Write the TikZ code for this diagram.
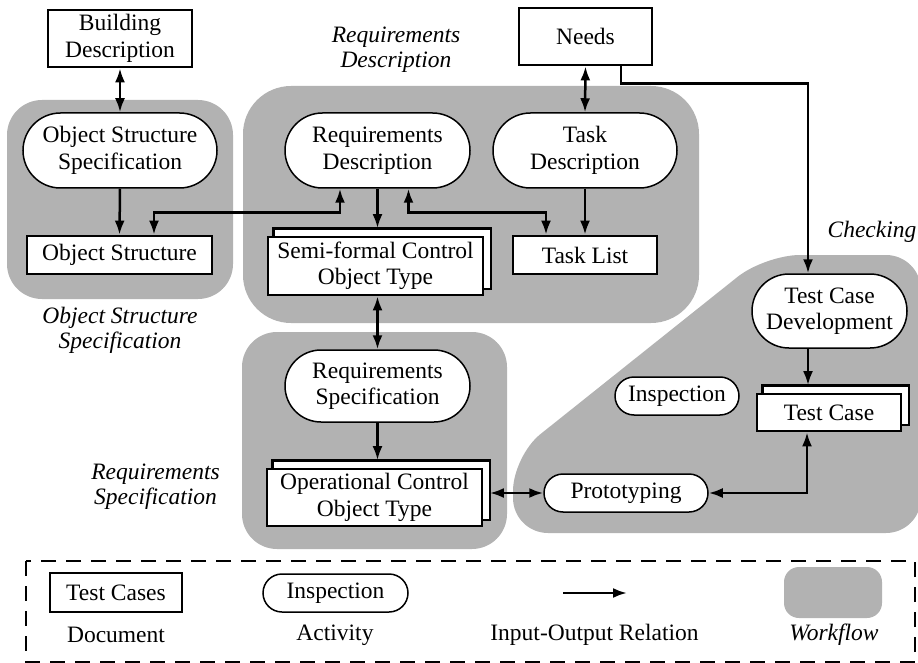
\documentclass[tikz,border=0pt]{standalone}
\usepackage{fontspec}
\setmainfont{Liberation Serif}
\usetikzlibrary{arrows.meta}
\pgfdeclarelayer{bg}
\pgfdeclarelayer{backdoc}
\pgfsetlayers{bg,backdoc,main}
\begin{document}
\begin{tikzpicture}[x=1pt,y=-1pt,font=\fontsize{23.5}{26.5}\selectfont,
  wf/.style={fill=black!30},
  doc/.style={draw,line width=2.8pt,fill=white,align=center,inner sep=0pt},
  act/.style={draw,line width=1.5pt,fill=white,align=center,inner sep=0pt,rounded corners=#1},
  tip/.style={},
  io/.style={line width=2.5pt,-{Latex[length=14pt,width=10pt]}},
  bio/.style={line width=2.5pt,{Latex[length=14pt,width=10pt]}-{Latex[length=14pt,width=10pt]}},
  lab/.style={font=\fontsize{23.5}{25}\selectfont\itshape,align=center}]
\useasboundingbox (0,0) rectangle (918,663);
% workflows
\begin{pgfonlayer}{bg}
\fill[wf,rounded corners=35pt] (7,100) rectangle (233,299);
\fill[wf,rounded corners=48pt] (243,86) rectangle (699,323);
\fill[wf,rounded corners=35pt] (242,332) rectangle (507,549);
\begin{scope}
\clip (0,0) rectangle (918,663);
\fill[wf,rounded corners=35pt] (765,255) -- (921,255) -- (921,533) -- (513,533) -- (513,456) -- cycle;
\end{scope}
\end{pgfonlayer}
% labels
\node[lab] (lRD) at (396,50) {Requirements\\Description};
\node[lab] (lOSS) at (120,330) {Object Structure\\Specification};
\node[lab] (lRS) at (155.5,487) {Requirements\\Specification};
\node[lab] (lChk) at (872,232) {Checking};
% documents
\node[doc,minimum width=144pt,minimum height=57pt] (BD) at (120,38.5) {Building\\Description};
\node[doc,minimum width=133pt,minimum height=57pt] (Needs) at (585.5,36.5) {Needs};
\node[doc,minimum width=185pt,minimum height=38pt] (OS) at (119.5,255) {Object Structure};
\node[doc,minimum width=215pt,minimum height=58pt] (SF) at (375.5,266) {Semi-formal Control\\Object Type};
\node[doc,minimum width=144pt,minimum height=38pt] (TL) at (585,255) {Task List};
\node[doc,minimum width=215pt,minimum height=57pt] (Op) at (374.5,497.5) {Operational Control\\Object Type};
\node[doc,minimum width=144pt,minimum height=37pt] (TC) at (829,412.5) {Test Case};
% back sheets of the multi-document nodes
\begin{pgfonlayer}{backdoc}
\foreach \n in {SF,Op,TC}{
  \draw[line width=2.8pt,fill=white] ([xshift=6.5pt,yshift=7.5pt]\n.south west) rectangle ([xshift=6.5pt,yshift=7.5pt]\n.north east);
}
\end{pgfonlayer}
% activities
\node[act=37.5pt,minimum width=194pt,minimum height=75pt] (OSS) at (120,150.5) {Object Structure\\Specification};
\node[act=37.5pt,minimum width=185pt,minimum height=75pt] (RD) at (377.5,150.5) {Requirements\\Description};
\node[act=37.5pt,minimum width=184pt,minimum height=75pt] (TD) at (585,150.5) {Task\\Description};
\node[act=36pt,minimum width=185pt,minimum height=72pt] (RS) at (377.5,386) {Requirements\\Specification};
\node[act=19pt,minimum width=164pt,minimum height=38pt] (Proto) at (626,493) {Prototyping};
\node[act=19pt,minimum width=124pt,minimum height=38pt] (Insp) at (677,396) {Inspection};
\node[act=37pt,minimum width=155pt,minimum height=74pt] (TCD) at (829.5,311) {Test Case\\Development};
% helper coordinates
\coordinate (SFtop) at ([yshift=7.5pt]SF.north);
\coordinate (Optop) at ([yshift=7.5pt]Op.north);
\coordinate (OpR) at ([xshift=6.5pt]Op.east);
\coordinate (TCtop) at ([yshift=7.5pt]TC.north);
% connectors
\draw[bio] (BD.south) -- (OSS.north);
\draw[io] (OSS.south) -- (OS.north);
\draw[bio] ([xshift=-37.5pt]RD.south) -- ++(0,24) -| ([xshift=34.5pt]OS.north);
\draw[io] (RD.south) -- (RD.south |- SFtop);
\draw[bio] ([xshift=31pt]RD.south) -- ++(0,24) -| ([xshift=-39pt]TL.north);
\draw[bio] (Needs.south) -- (TD.north);
\draw[io] (TD.south) -- (TL.north);
\draw[io] ([xshift=35.5pt]Needs.south) -- ++(0,17) -| ([xshift=-21.5pt]TCD.north);
\draw[bio] (RS.north |- SF.south) -- (RS.north);
\draw[io] (RS.south) -- (RS.south |- Optop);
\draw[bio] (OpR |- Proto.west) -- (Proto.west);
\draw[io] ([xshift=-21.5pt]TCD.south) -- ([xshift=-21.5pt]TCD.south |- TCtop);
\draw[bio] ([xshift=-22pt]TC.south) |- (Proto.east);
% legend
\draw[line width=2pt,dash pattern=on 15pt off 10pt] (26,561) rectangle (915,662);
\node[doc,minimum width=132pt,minimum height=39pt] (lgDoc) at (116,592.5) {Test Cases};
\node[act=19pt,minimum width=145pt,minimum height=38pt] (lgAct) at (335.5,593) {Inspection};
\coordinate (la) at (563,593);
\coordinate (lb) at (627,593);
\draw[io] (la) -- (lb);
\begin{pgfonlayer}{bg}
\fill[wf,rounded corners=15pt] (784,567) rectangle (882,618);
\end{pgfonlayer}
\node (tDoc) at (116,635) {Document};
\node (tAct) at (335,635) {Activity};
\node (tIO) at (594.5,635) {Input-Output Relation};
\node[font=\fontsize{23.5}{26.5}\selectfont\itshape] (tWf) at (834,635) {Workflow};
\end{tikzpicture}
\end{document}
